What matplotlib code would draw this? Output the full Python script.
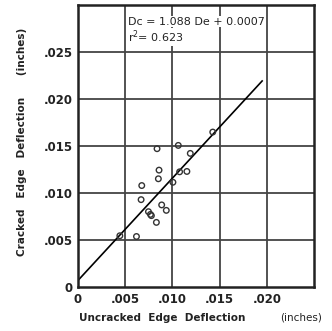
import matplotlib
matplotlib.use("Agg")
import matplotlib.pyplot as plt
import numpy

# measured deflections (inches)
uncracked = [0.00837, 0.01062, 0.01189, 0.00858, 0.00851, 0.01076, 0.01153, 0.01005,
             0.00675, 0.00668, 0.00886, 0.00935, 0.00746, 0.00767, 0.00777, 0.00830,
             0.00619, 0.00443, 0.01427]
cracked = [0.01471, 0.01506, 0.01421, 0.01243, 0.01151, 0.01225, 0.01229, 0.01114,
           0.01079, 0.00929, 0.00873, 0.00815, 0.00801, 0.00772, 0.00759, 0.00687,
           0.00537, 0.00545, 0.01648]

# regression Dc = 1.088 De + 0.0007
slope = 1.088
intercept = 0.0007
fit_range = [0.0, 0.0195]

ticks_x = [0, 0.005, 0.010, 0.015, 0.020]
ticks_y = [0, 0.005, 0.010, 0.015, 0.020, 0.025]
tick_labels_x = ["0", ".005", ".010", ".015", ".020"]
tick_labels_y = ["0", ".005", ".010", ".015", ".020", ".025"]

fig = plt.figure(figsize=(3.32, 3.31), dpi=100)
ax = fig.add_axes([0.235, 0.133, 0.711, 0.852])

for v in [0.005, 0.010, 0.015, 0.020]:
    ax.axvline(v, color="#444444", linewidth=1.3, zorder=0)
for v in [0.005, 0.010, 0.015, 0.020, 0.025]:
    ax.axhline(v, color="#444444", linewidth=1.3, zorder=0)

xs = numpy.array(fit_range)
ax.plot(xs, slope * xs + intercept, color="black", linewidth=1.2, zorder=2)
ax.scatter(uncracked, cracked, s=16, facecolors="none", edgecolors="#333333",
           linewidths=1.0, zorder=3)

ax.set_xlim(0, 0.025)
ax.set_ylim(0, 0.030)
ax.set_xticks(ticks_x)
ax.set_xticklabels(tick_labels_x)
ax.set_yticks(ticks_y)
ax.set_yticklabels(tick_labels_y)
ax.tick_params(axis="both", length=0, labelsize=8.5, pad=4)
for lab in ax.get_xticklabels() + ax.get_yticklabels():
    lab.set_fontweight("bold")
    lab.set_color("#222222")

for s in ax.spines.values():
    s.set_linewidth(1.8)
    s.set_color("#222222")

box = dict(facecolor="white", edgecolor="none", pad=0.3)
ax.text(0.0053, 0.0282, "Dc = 1.088 De + 0.0007", fontsize=8, va="center", ha="left",
        color="#222222", bbox=box, zorder=4)
ax.text(0.0053, 0.0266, "r$^2$= 0.623", fontsize=8, va="center", ha="left",
        color="#222222", bbox=box, zorder=4)

fig.text(0.49, 0.025, "Uncracked  Edge  Deflection", fontsize=7.5, fontweight="bold",
         ha="center", va="bottom", color="#222222")
fig.text(0.97, 0.025, "(inches)", fontsize=7.5, ha="right", va="bottom", color="#222222")
fig.text(0.065, 0.57, "Cracked   Edge   Deflection      (inches)", fontsize=7.5,
         fontweight="bold", rotation=90, ha="center", va="center", color="#222222")

fig.savefig("out.png", dpi=100)
